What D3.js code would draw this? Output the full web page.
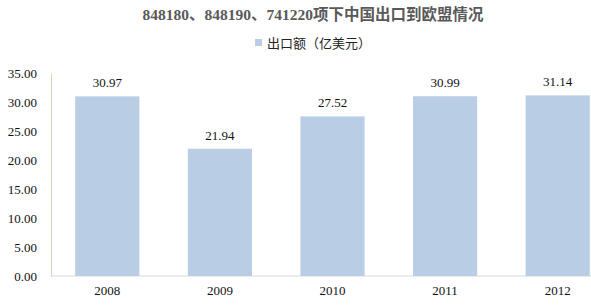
<!DOCTYPE html>
<html>
<head>
<meta charset="utf-8">
<script src="https://cdn.jsdelivr.net/npm/d3@7"></script>
<style>
  body { margin: 0; background: #fff; }
  svg { display: block; }
</style>
</head>
<body>
<svg id="chart"></svg>
<script>
const years = ['2008', '2009', '2010', '2011', '2012'];
const exportValues = [30.97, 21.94, 27.52, 30.99, 31.14];
const yTicks = [0, 5, 10, 15, 20, 25, 30, 35];
const titleText = '848180、848190、741220项下中国出口到欧盟情况';
const legendText = '出口额（亿美元）';

const w = 591, h = 308;
const svg = d3.select('#chart').attr('width', w).attr('height', h);

const xScale = d3.scaleBand()
    .domain(years)
    .range([51, 614])
    .paddingInner(0.43)
    .paddingOuter(0.215);

const yScale = d3.scaleLinear()
    .domain([0, 35])
    .range([276, 73]);

const serif = '"Liberation Serif", "Times New Roman", serif';

// title
svg.append('text')
    .attr('x', 313).attr('y', 20)
    .attr('text-anchor', 'middle')
    .style('font-family', serif + ', "Noto Sans CJK SC"')
    .style('font-size', '15.5px')
    .style('font-weight', 'bold')
    .style('fill', '#595959')
    .text(titleText);

// legend
svg.append('rect')
    .attr('x', 255).attr('y', 39).attr('width', 7).attr('height', 7)
    .style('fill', '#b9cde5');
svg.append('text')
    .attr('x', 267).attr('y', 47.5)
    .style('font-family', '"Noto Sans CJK SC", sans-serif')
    .style('font-size', '13px')
    .style('fill', '#222')
    .text(legendText);

// baseline
svg.append('line')
    .attr('x1', 51).attr('x2', w)
    .attr('y1', yScale(0)).attr('y2', yScale(0))
    .style('stroke', '#d9d9d9');

// bars
svg.selectAll('rect.bar')
    .data(exportValues)
    .enter()
    .append('rect')
    .attr('class', 'bar')
    .attr('x', (d, i) => xScale(years[i]))
    .attr('y', d => yScale(d))
    .attr('width', xScale.bandwidth())
    .attr('height', d => yScale(0) - yScale(d))
    .style('fill', '#b9cde5');

// value labels
svg.selectAll('text.val')
    .data(exportValues)
    .enter()
    .append('text')
    .attr('class', 'val')
    .attr('x', (d, i) => xScale(years[i]) + xScale.bandwidth() / 2)
    .attr('y', d => yScale(d) - 9)
    .attr('text-anchor', 'middle')
    .style('font-family', serif)
    .style('font-size', '13px')
    .style('fill', '#111')
    .text(d => d.toFixed(2));

// y axis
const yAxis = d3.axisLeft(yScale)
    .tickValues(yTicks)
    .tickFormat(d => d.toFixed(2))
    .tickSize(0)
    .tickPadding(14);

const gy = svg.append('g')
    .attr('transform', 'translate(51,0)')
    .call(yAxis);
gy.select('.domain').style('stroke', '#c5e0b4');
gy.selectAll('text')
    .style('font-family', serif)
    .style('font-size', '13px')
    .style('fill', '#111');

// x axis
const xAxis = d3.axisBottom(xScale).tickSize(0).tickPadding(10);
const gx = svg.append('g')
    .attr('transform', 'translate(0,' + yScale(0) + ')')
    .call(xAxis);
gx.select('.domain').remove();
gx.selectAll('text')
    .style('font-family', serif)
    .style('font-size', '13px')
    .style('fill', '#111');
</script>
</body>
</html>
